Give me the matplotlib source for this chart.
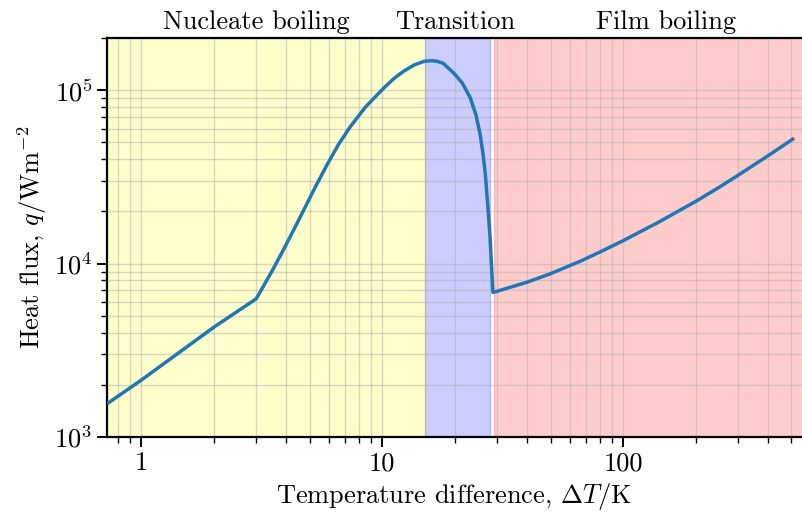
import matplotlib
matplotlib.use("Agg")
import matplotlib.pyplot as plt
from matplotlib.ticker import FuncFormatter, NullFormatter

plt.rcParams['font.family'] = 'cmr10'
plt.rcParams['mathtext.fontset'] = 'cm'
plt.rcParams['axes.formatter.use_mathtext'] = True
plt.rcParams['font.size'] = 19

# Boiling curve
dT_nucleate = [0.73, 1.0, 2.0, 3.0, 3.5, 3.9, 4.3, 4.72, 5.3, 5.89, 6.6, 7.37,
               8.5, 10.1, 11.2, 12.3, 13.6, 15.0, 16.1]
q_nucleate = [1574, 2130, 4300, 6270, 9140, 12100, 15750, 20350, 28000, 37000,
              48900, 61600, 79700, 102200, 117000, 129000, 140000, 147000, 148000]
dT_transition = [17.0, 17.9, 19.8, 21.5, 23.2, 24.5, 25.5, 26.2, 26.8, 27.2,
                 27.6, 28.0, 28.3, 28.8]
q_transition = [146500, 143000, 125600, 110000, 90400, 72000, 55600, 43000,
                32700, 25000, 19300, 14500, 10900, 6840]
dT_film = [29.1, 35, 39.9, 49.8, 66.3, 80, 100, 140, 202, 250, 301, 400, 506]
q_film = [6840, 7390, 7810, 8730, 10310, 11650, 13550, 17300, 23000, 27500,
          32400, 41900, 52200]

regions = ["Nucleate boiling", "Transition", "Film boiling"]
region_bounds = [(0.72, 15), (15, 28), (29, 600)]
region_colors = ["yellow", "blue", "red"]
region_label_x = [3, 20, 150]

dT = dT_nucleate + dT_transition + dT_film
q = q_nucleate + q_transition + q_film

fig = plt.figure(figsize=(8.02, 5.15), dpi=100)
ax = fig.add_axes([107/802, 78/515, 1 - 107/802, (437-38)/515])

for (a, b), c in zip(region_bounds, region_colors):
    ax.axvspan(a, b, color=c, alpha=0.2)

ax.plot(dT, q, color='#1f77b4', lw=2.5, zorder=3, solid_joinstyle='round')

ax.set_xscale('log')
ax.set_yscale('log')
ax.set_xlim(0.72, 553)
ax.set_ylim(1e3, 2e5)

ax.xaxis.set_major_formatter(FuncFormatter(lambda v, p: f"{v:g}"))
ax.xaxis.set_minor_formatter(NullFormatter())
ax.yaxis.set_minor_formatter(NullFormatter())

ax.grid(True, which='both', color='#b0b0b0', alpha=0.5, lw=1)

for s in ['left', 'top', 'bottom']:
    ax.spines[s].set_linewidth(1.6)
ax.spines['right'].set_visible(False)
ax.tick_params(which='major', length=7, width=1.4, direction='out')
ax.tick_params(which='minor', length=4, width=1.0, direction='out')

for lbl, xpos in zip(regions, region_label_x):
    ax.text(xpos, 1.01, lbl, transform=ax.get_xaxis_transform(),
            ha='center', va='bottom')

ax.set_xlabel(r"Temperature difference, $\Delta T/\mathrm{K}$")
ax.set_ylabel(r"Heat flux, $q/\mathrm{Wm^{-2}}$")

fig.savefig("out.png", dpi=100)
